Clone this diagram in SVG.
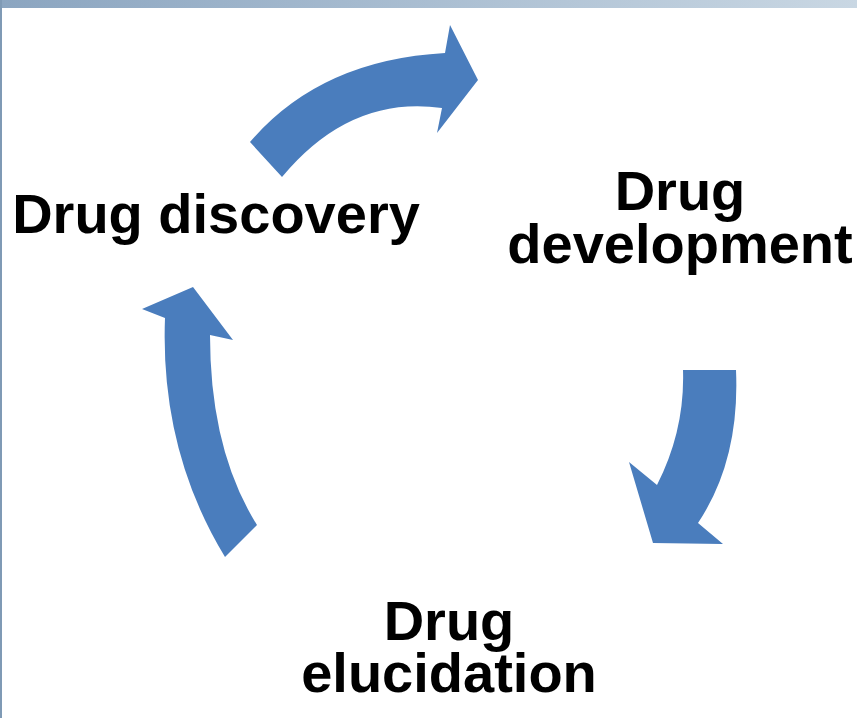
<svg xmlns="http://www.w3.org/2000/svg" width="857" height="718" viewBox="0 0 857 718">
<defs>
<linearGradient id="bar" x1="0" y1="0" x2="1" y2="0">
<stop offset="0" stop-color="#8ba5c0"/>
<stop offset="1" stop-color="#c9d7e3"/>
</linearGradient>
</defs>
<style>
.lbl{font-family:"Liberation Sans",Arial,sans-serif;font-weight:bold;font-size:56px;fill:#000;text-anchor:middle}
.arr{fill:#4a7dbd}
</style>
<rect x="0" y="0" width="857" height="718" fill="#fff"/>
<rect x="0" y="0" width="857" height="8" fill="url(#bar)"/>
<rect x="0" y="0" width="2" height="718" fill="#7f9ab5"/>
<g id="connectors">
<path class="arr" d="M250,142 Q320,60 445,53 L450,25 L478,80 L437,133 L442,108 Q350,95 282,177 Z"/>
<path class="arr" d="M683,370 L736,370 Q740,460 698,523 L723,544 L653,543 L629,462 L657,485 Q685,430 683,370 Z"/>
<path class="arr" d="M193,287 L233,340 L210,335 Q210,450 257,525 L225,557 Q160,450 165,318 L142,309 Z"/>
</g>
<g id="discovery"><text class="lbl" x="216" y="233">Drug discovery</text></g>
<g id="development"><text class="lbl" x="680" y="210"><tspan x="680" y="210">Drug</tspan><tspan x="680" y="263">development</tspan></text></g>
<g id="elucidation"><text class="lbl" x="449" y="640"><tspan x="449" y="640">Drug</tspan><tspan x="449" y="692">elucidation</tspan></text></g>
</svg>
